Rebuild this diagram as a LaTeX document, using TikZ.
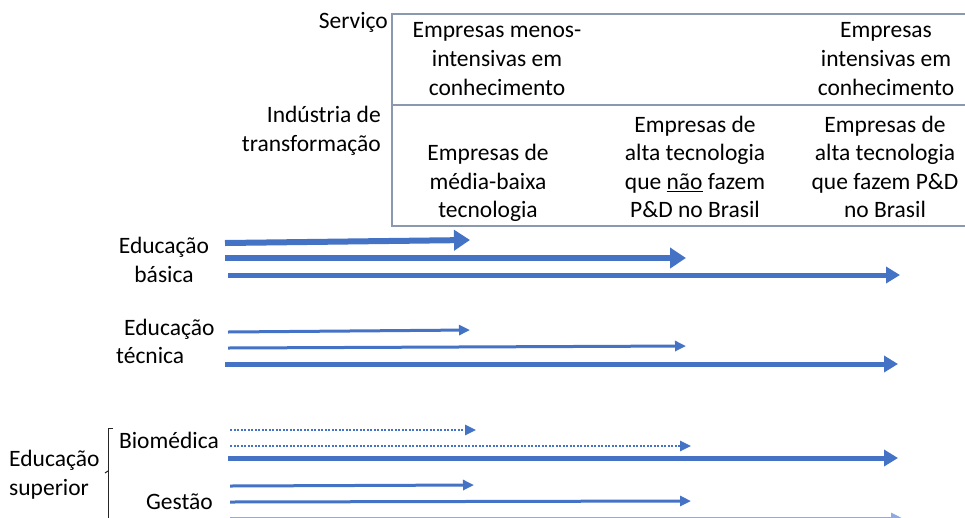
\documentclass[tikz,border=0pt]{standalone}
\usepackage{fontspec}
\setmainfont{Carlito}
\usetikzlibrary{arrows.meta}
\definecolor{arrowblue}{HTML}{4472C4}
\definecolor{boxgray}{HTML}{8A99AE}
\begin{document}
\begin{tikzpicture}[x=1pt,y=-1pt,
  txt/.style={font=\fontsize{23.5}{28.6}\selectfont, inner sep=0pt, align=center},
  thickarrow/.style={draw=arrowblue, line width=6pt, -{Triangle[length=16pt,width=20pt]}},
  midarrow/.style={draw=arrowblue, line width=5pt, -{Triangle[length=14pt,width=16pt]}},
  thinarrow/.style={draw=arrowblue, line width=3pt, -{Triangle[length=11pt,width=10pt]}},
  dotarrow/.style={draw=arrowblue, line width=2.5pt, dash pattern=on 2pt off 1.5pt, -{Triangle[length=11pt,width=10pt]}},
  frame/.style={draw=boxgray, line width=2.5pt}]
\useasboundingbox (0,0) rectangle (965,517);
\begin{scope}
\clip (0,0) rectangle (965,517);
% table frame
\coordinate (tl) at (392,14);
\coordinate (tr) at (980,14);
\coordinate (ml) at (392,105);
\coordinate (mr) at (980,105);
\coordinate (bl) at (392,226);
\coordinate (br) at (980,226);
\draw[frame] (tr) -- (tl) -- (bl) -- (br);
\draw[frame] (ml) -- (mr);

% row labels
\node[txt, anchor=east] (serv) at (388,22) {Serviço};
\node[txt, anchor=east, align=right] (ind) at (381,131) {Indústria de\\transformação};

% cells
\node[txt] (c1) at (497,59) {Empresas menos-\\intensivas em\\conhecimento};
\node[txt] (c2) at (886,59) {Empresas\\intensivas em\\conhecimento};
\node[txt] (c3) at (488,183) {Empresas de\\média-baixa\\tecnologia};
\node[txt] (c4) at (695,167) {Empresas de\\alta tecnologia\\que \underline{não} fazem\\P\&D no Brasil};
\node[txt] (c5) at (885,167) {Empresas de\\alta tecnologia\\que fazem P\&D\\no Brasil};

% left labels
\node[txt] (eb) at (164,260) {Educação\\básica};
\node[txt, anchor=west] (et1) at (124,329) {Educação};
\node[txt, anchor=west] (et2) at (116,355) {técnica};
\node[txt, anchor=west, align=left] (es) at (9,475) {Educação\\superior};
\node[txt, anchor=east] (bio) at (219,440) {Biomédica};
\node[txt, anchor=east] (ges) at (213,502) {Gestão};

% bracket
\coordinate (brt) at (108,428);
\coordinate (brtt) at (113,428);
\coordinate (brb) at (108,525);
\coordinate (brm) at (108,471);
\coordinate (brml) at (105,473);
\draw[line width=1pt, black!85] (brtt) -- (brt) -- (brb);
\draw[line width=1pt, black!85] (brm) -- (brml);

% Educação básica arrows
\coordinate (a1s) at (225,243); \coordinate (a1e) at (470,240);
\coordinate (a2s) at (225,258); \coordinate (a2e) at (686,258);
\coordinate (a3s) at (228,275); \coordinate (a3e) at (900,275);
\draw[thickarrow] (a1s) -- (a1e);
\draw[thickarrow] (a2s) -- (a2e);
\draw[midarrow] (a3s) -- (a3e);

% Educação técnica arrows
\coordinate (b1s) at (228,332); \coordinate (b1e) at (470,330);
\coordinate (b2s) at (228,348); \coordinate (b2e) at (686,346);
\coordinate (b3s) at (225,364); \coordinate (b3e) at (898,364);
\draw[thinarrow] (b1s) -- (b1e);
\draw[thinarrow] (b2s) -- (b2e);
\draw[midarrow] (b3s) -- (b3e);

% Educação superior arrows
\coordinate (d1s) at (230,430); \coordinate (d1e) at (476,430);
\coordinate (d2s) at (230,446); \coordinate (d2e) at (691,446);
\coordinate (d3s) at (228,458); \coordinate (d3e) at (898,458);
\draw[dotarrow] (d1s) -- (d1e);
\draw[dotarrow] (d2s) -- (d2e);
\draw[midarrow] (d3s) -- (d3e);
\coordinate (g1s) at (230,486); \coordinate (g1e) at (474,485);
\coordinate (g2s) at (230,502); \coordinate (g2e) at (691,501);
\coordinate (g3s) at (230,518); \coordinate (g3e) at (902,518);
\draw[thinarrow] (g1s) -- (g1e);
\draw[thinarrow] (g2s) -- (g2e);
\draw[thinarrow, draw=arrowblue!60] (g3s) -- (g3e);
\end{scope}
\end{tikzpicture}
\end{document}
